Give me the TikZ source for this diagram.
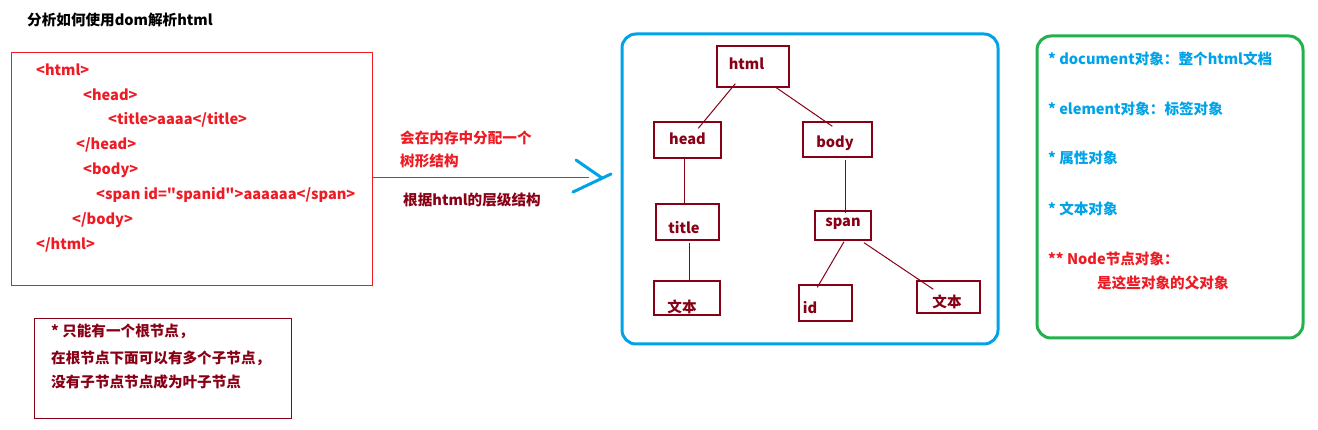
\documentclass[tikz,border=0pt]{standalone}
\usepackage{fontspec}
\setmainfont{Noto Sans CJK SC}[Ligatures=TeXOff]
\usetikzlibrary{calc}
\definecolor{pred}{HTML}{ED1C24}
\definecolor{dred}{HTML}{880015}
\definecolor{pblue}{HTML}{00A2E8}
\definecolor{pgreen}{HTML}{22B14C}
\tikzset{
  txt/.style={anchor=west,inner sep=0pt,font=\fontsize{14.6}{16}\selectfont\bfseries},
  codetxt/.style={txt,text=pred},
  tbox/.style={draw=dred,line width=1.4pt,inner sep=0pt},
  lbl/.style={inner sep=0pt,text=dred,font=\fontsize{14.6}{16}\selectfont\bfseries},
  conn/.style={draw=dred,line width=1pt},
  panel/.style={rounded corners=14pt,line width=3pt}
}
\begin{document}
\begin{tikzpicture}[x=1pt,y=-1pt]
\useasboundingbox (0,0) rectangle (1318,430);
% title
\node[txt] (ttl) at (27,20) {分析如何使用dom解析html};
% code box
\node[draw=pred,line width=1pt,minimum width=361pt,minimum height=233pt,inner sep=0pt] (code) at (191.5,169.5) {};
\node[codetxt] (c1) at (36,70) {<html>};
\node[codetxt] (c2) at (83,95) {<head>};
\node[codetxt] (c3) at (108,120) {<title>aaaa</title>};
\node[codetxt] (c4) at (76,145) {</head>};
\node[codetxt] (c5) at (83,170) {<body>};
\node[codetxt] (c6) at (96,195) {<span id="spanid">aaaaaa</span>};
\node[codetxt] (c7) at (72,220) {</body>};
\node[codetxt] (c8) at (36,245) {</html>};
% arrow
\coordinate (tip) at (589,177.5);
\draw[pred,line width=1pt] ([yshift=-8pt]code.east) -- (tip);
\draw[pblue,line width=3pt,line cap=round] (576,160) -- (602,178) (573,192) -- (611,174);
\node[txt,text=pred] (m1) at (400,138) {会在内存中分配一个};
\node[txt,text=pred] (m2) at (400,161) {树形结构};
\node[txt,text=dred] (m3) at (403,200) {根据html的层级结构};
% blue panel
\draw[pblue,panel] (622,34) rectangle (998,344);
% tree
\node[tbox,minimum width=72pt,minimum height=41pt,label={[lbl,xshift=-6.5pt,yshift=2.5pt]center:html}] (html) at (753,66.5) {};
\node[tbox,minimum width=67pt,minimum height=36pt,label={[lbl,yshift=1pt]center:head}] (head) at (687.5,140) {};
\node[tbox,minimum width=69pt,minimum height=35pt,label={[lbl,xshift=-2.5pt,yshift=-3.5pt]center:body}] (body) at (837.5,139.5) {};
\node[tbox,minimum width=63pt,minimum height=36pt,label={[lbl,xshift=-3.5pt,yshift=-6pt]center:title}] (title) at (687.5,222) {};
\node[tbox,minimum width=56pt,minimum height=29pt,label={[lbl,yshift=1.5pt]center:span}] (span) at (843,225.5) {};
\node[tbox,minimum width=66pt,minimum height=34pt,label={[lbl,xshift=-5pt,yshift=-9pt]center:文本}] (wb1) at (687,298) {};
\node[tbox,minimum width=53pt,minimum height=36pt,label={[lbl,xshift=-15.5pt,yshift=-5pt]center:id}] (id) at (825.5,303) {};
\node[tbox,minimum width=63pt,minimum height=32pt,label={[lbl,xshift=-1.5pt,yshift=-5pt]center:文本}] (wb2) at (948.5,297) {};
\draw[conn] ([shift={(19,-4)}]html.south west) -- ([shift={(45,7)}]head.north west);
\draw[conn] ([shift={(60,0)}]html.south west) -- ([shift={(30,5)}]body.north west);
\draw[conn] ([shift={(-3.5,0)}]head.south) -- ([shift={(-3.5,2)}]title.north);
\draw[conn] ([shift={(1.5,2)}]title.south) -- ([shift={(2,0)}]wb1.north);
\draw[conn] ([shift={(7.5,2)}]body.south) -- ([shift={(2,3)}]span.north);
\draw[conn] ([shift={(1,1)}]span.south) -- ([shift={(19,3)}]id.north west);
\draw[conn] ([shift={(21,2)}]span.south) -- ([shift={(17,9)}]wb2.north west);
% green panel
\draw[pgreen,panel] (1037,36) rectangle (1303,338);
\node[txt,text=pblue] (g1) at (1048,59) {* document对象：整个html文档};
\node[txt,text=pblue] (g2) at (1048,109) {* element对象：标签对象};
\node[txt,text=pblue] (g3) at (1048,158) {* 属性对象};
\node[txt,text=pblue] (g4) at (1048,209) {* 文本对象};
\node[txt,text=pred] (g5) at (1048,259) {** Node节点对象：};
\node[txt,text=pred] (g6) at (1097,283) {是这些对象的父对象};
% bottom box
\node[draw=dred,line width=1pt,minimum width=257pt,minimum height=99pt,inner sep=0pt] (note) at (162.5,368.5) {};
\node[txt,text=dred] (n1) at (51,331) {* 只能有一个根节点，};
\node[txt,text=dred] (n2) at (51,358) {在根节点下面可以有多个子节点，};
\node[txt,text=dred] (n3) at (51,382) {没有子节点节点成为叶子节点};
\end{tikzpicture}
\end{document}
